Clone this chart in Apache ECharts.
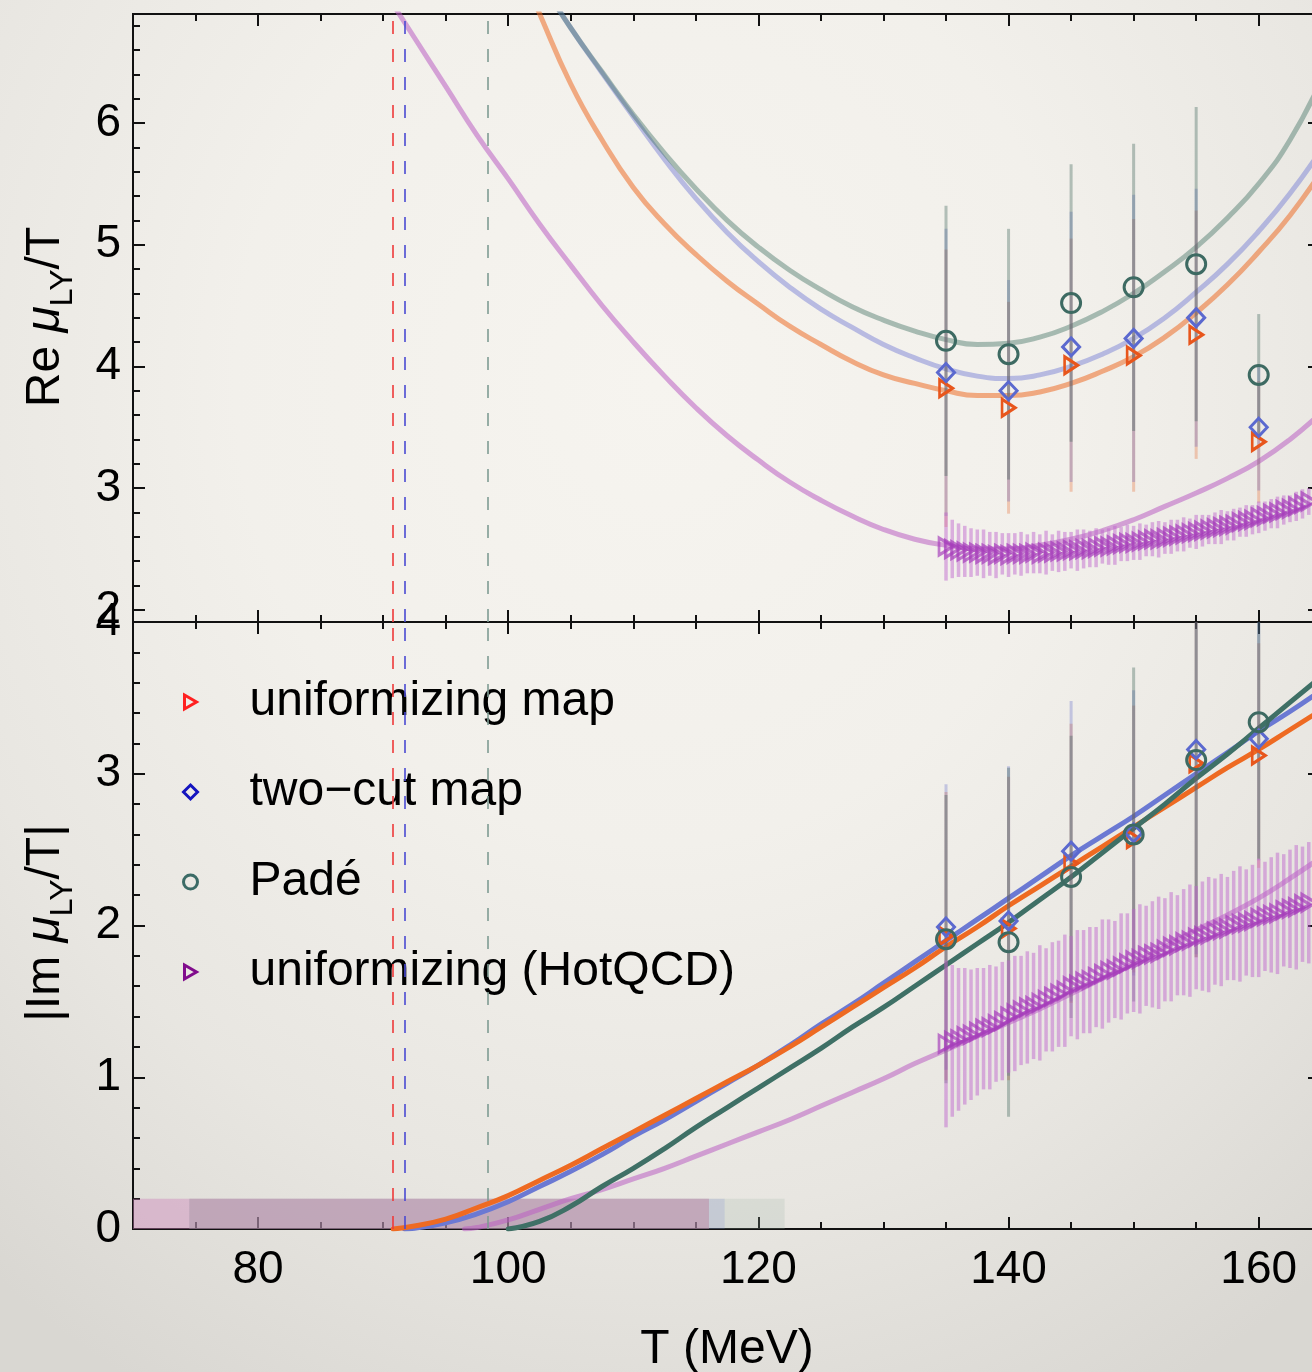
<!DOCTYPE html>
<html>
<head>
<meta charset="utf-8">
<script src="https://cdn.jsdelivr.net/npm/echarts@6/dist/echarts.min.js"></script>
<style>
html,body{margin:0;padding:0;width:1312px;height:1372px;overflow:hidden;}
body{background:radial-gradient(ellipse 1050px 1150px at 50% 28%, #f6f4ef 0%, #f2f0eb 40%, #e8e6e1 72%, #d9d7d2 100%);}
#chart{width:1312px;height:1372px;}
</style>
</head>
<body>
<div id="chart"></div>
<script>
// ---------------- data ----------------
const ptT = [135, 140, 145, 150, 155, 160];
// Re mu_LY / T
const reUnif      = [3.82, 3.66, 4.01, 4.09, 4.26, 3.38];
const reUnifErr   = [1.14, 0.87, 1.04, 1.12, 1.02, 0.50];
const reTwoCut    = [3.95, 3.80, 4.16, 4.23, 4.40, 3.50];
const reTwoCutErr = [1.18, 0.91, 1.11, 1.18, 1.06, 0.52];
const rePade      = [4.21, 4.10, 4.52, 4.65, 4.84, 3.93];
const rePadeErr   = [1.11, 1.03, 1.14, 1.18, 1.29, 0.50];
// |Im mu_LY / T|
const imUnif      = [1.93, 1.98, 2.41, 2.57, 3.07, 3.12];
const imUnifErr   = [0.95, 1.00, 0.92, 0.88, 1.28, 0.74];
const imTwoCut    = [1.99, 2.03, 2.49, 2.61, 3.16, 3.23];
const imTwoCutErr = [0.94, 1.02, 0.99, 0.94, 1.35, 0.80];
const imPade      = [1.91, 1.89, 2.32, 2.60, 3.09, 3.34];
const imPadeErr   = [0.95, 1.15, 0.93, 1.10, 1.30, 0.90];

// HotQCD uniformizing points
const hqT = [135,135.5,136,136.5,137,137.5,138,138.5,139,139.5,140,140.5,141,141.5,142,142.5,143,143.5,144,144.5,145,145.5,146,146.5,147,147.5,148,148.5,149,149.5,150,150.5,151,151.5,152,152.5,153,153.5,154,154.5,155,155.5,156,156.5,157,157.5,158,158.5,159,159.5,160,160.5,161,161.5,162,162.5,163,163.5,164];
const hqRe = [2.52,2.50,2.49,2.48,2.47,2.47,2.46,2.46,2.45,2.46, 2.45,2.46,2.46,2.46,2.47,2.46,2.47,2.47,2.48,2.48, 2.49,2.49,2.50,2.50,2.51,2.52,2.52,2.53,2.54,2.55, 2.55,2.56,2.57,2.58,2.58,2.59,2.60,2.61,2.62,2.63, 2.64,2.65,2.66,2.67,2.68,2.69,2.70,2.72,2.73,2.74, 2.76,2.77,2.79,2.80,2.82,2.83,2.85,2.87,2.89];
const hqReErr = [0.28,0.24,0.22,0.21,0.20,0.19,0.20,0.18,0.19,0.17, 0.18,0.17,0.18,0.16,0.17,0.16,0.18,0.15,0.17,0.16, 0.15,0.17,0.16,0.15,0.16,0.14,0.15,0.16,0.14,0.15, 0.14,0.15,0.13,0.14,0.15,0.13,0.14,0.13,0.14,0.12, 0.14,0.13,0.12,0.13,0.14,0.12,0.13,0.12,0.13,0.12, 0.13,0.12,0.12,0.13,0.12,0.11,0.12,0.12,0.11];
const hqIm = [1.22,1.24,1.25,1.27,1.28,1.30,1.32,1.33,1.35,1.37, 1.40,1.42,1.44,1.46,1.47,1.49,1.51,1.53,1.55,1.57, 1.60,1.61,1.63,1.64,1.66,1.68,1.70,1.71,1.73,1.75, 1.77,1.78,1.80,1.81,1.82,1.84,1.86,1.87,1.89,1.90, 1.92,1.93,1.94,1.96,1.97,1.98,2.00,2.01,2.02,2.03, 2.05,2.06,2.07,2.08,2.10,2.11,2.12,2.14,2.15];
const hqImErr = [0.55,0.50,0.47,0.45,0.43,0.42,0.40,0.41,0.38,0.39, 0.37,0.38,0.36,0.37,0.35,0.38,0.34,0.36,0.35,0.37, 0.33,0.36,0.34,0.35,0.33,0.36,0.34,0.32,0.35,0.33, 0.34,0.36,0.33,0.35,0.37,0.34,0.36,0.33,0.35,0.37, 0.34,0.36,0.38,0.35,0.37,0.34,0.36,0.38,0.35,0.37, 0.39,0.36,0.38,0.40,0.37,0.39,0.41,0.38,0.40];

// fitted curves (Re)
const reFitT      = [100,102.5,105,107.5,110,112.5,115,117.5,120,122.5,125,127.5,130,132.5,135,137.5,140,142.5,145,147.5,150,152.5,155,157.5,160,162.5,165];
const reFitUnif   = [7.50,6.90,6.32,5.86,5.47,5.17,4.92,4.70,4.51,4.33,4.18,4.04,3.93,3.86,3.80,3.76,3.76,3.79,3.86,3.96,4.08,4.24,4.44,4.67,4.94,5.24,5.60];
const reFitT2     = [102.5,105,107.5,110,112.5,115,117.5,120,122.5,125,127.5,130,132.5,135,137.5,140,142.5,145,147.5,150,152.5,155,157.5,160,162.5,165];
const reFitTwoCut = [7.18,6.78,6.41,6.05,5.70,5.38,5.10,4.86,4.65,4.47,4.32,4.18,4.07,3.98,3.92,3.90,3.93,4.00,4.10,4.23,4.40,4.61,4.84,5.11,5.42,5.78];
const reFitPade   = [7.18,6.78,6.42,6.07,5.75,5.46,5.20,4.98,4.79,4.63,4.49,4.38,4.29,4.22,4.18,4.19,4.24,4.33,4.45,4.60,4.78,4.98,5.22,5.50,5.86,6.35];
const reFitHqT    = [90,92.5,95,97.5,100,102.5,105,107.5,110,112.5,115,117.5,120,122.5,125,127.5,130,132.5,135,137.5,140,142.5,145,147.5,150,152.5,155,157.5,160,162.5,165];
const reFitHq     = [7.10,6.70,6.30,5.90,5.54,5.17,4.83,4.50,4.20,3.92,3.66,3.43,3.23,3.05,2.90,2.77,2.66,2.58,2.53,2.50,2.50,2.53,2.58,2.65,2.74,2.85,2.96,3.08,3.22,3.40,3.62];

// fitted curves (|Im|)
const imFitUnifT   = [90.8,92.5,95,97.5,100,102.5,105,107.5,110,112.5,115,117.5,120,122.5,125,127.5,130,132.5,135,137.5,140,142.5,145,147.5,150,152.5,155,157.5,160,162.5,165];
const imFitUnif    = [0,0.02,0.065,0.14,0.22,0.32,0.42,0.53,0.64,0.75,0.86,0.97,1.08,1.20,1.33,1.46,1.59,1.72,1.86,1.99,2.13,2.26,2.39,2.52,2.65,2.78,2.91,3.04,3.16,3.29,3.42];
const imFitTwoCutT = [91.7,92.5,95,97.5,100,102.5,105,107.5,110,112.5,115,117.5,120,122.5,125,127.5,130,132.5,135,137.5,140,142.5,145,147.5,150,152.5,155,157.5,160,162.5,165];
const imFitTwoCut  = [0,0.005,0.04,0.10,0.18,0.28,0.38,0.49,0.61,0.72,0.84,0.96,1.08,1.21,1.35,1.48,1.62,1.76,1.90,2.04,2.18,2.32,2.46,2.59,2.72,2.86,3.00,3.14,3.28,3.41,3.55];
const imFitPadeT   = [100,102.5,105,107.5,110,112.5,115,117.5,120,122.5,125,127.5,130,132.5,135,137.5,140,142.5,145,147.5,150,152.5,155,157.5,160,162.5,165];
const imFitPade    = [0,0.05,0.15,0.28,0.40,0.53,0.67,0.80,0.93,1.06,1.19,1.33,1.46,1.60,1.74,1.88,2.02,2.17,2.32,2.48,2.64,2.80,2.97,3.13,3.30,3.47,3.64];
const imFitHqT     = [96.5,97.5,100,102.5,105,107.5,110,112.5,115,117.5,120,122.5,125,127.5,130,132.5,135,137.5,140,142.5,145,147.5,150,152.5,155,157.5,160,162.5,165];
const imFitHq      = [0,0.01,0.06,0.13,0.20,0.26,0.33,0.40,0.48,0.56,0.64,0.72,0.81,0.90,0.99,1.09,1.18,1.27,1.36,1.45,1.55,1.65,1.75,1.86,1.97,2.07,2.18,2.31,2.45];

// vertical dashed lines (T) and shaded bands [from, to] on |Im| axis (0..0.2)
const vLinesT = [90.79, 91.75, 98.38];
const bandHotQCD = [70, 116.05];
const bandUnif   = [74.5, 116.05];
const bandTwoCut = [74.5, 117.3];
const bandPade   = [74.5, 122.1];
const bandHeight = 0.2;

// tick labels
const xTicksMajor = [80, 100, 120, 140, 160];
const xTicksMinor = [70,75,80,85,90,95,100,105,110,115,120,125,130,135,140,145,150,155,160];
const reTicksMajor = [2, 3, 4, 5, 6];
const reTicksMinor = [2,2.2,2.4,2.6,2.8,3,3.2,3.4,3.6,3.8,4,4.2,4.4,4.6,4.8,5,5.2,5.4,5.6,5.8,6,6.2,6.4,6.6,6.8];
const imTicksMajor = [0, 1, 2, 3, 4];
const imTicksMinor = [0,0.2,0.4,0.6,0.8,1,1.2,1.4,1.6,1.8,2,2.2,2.4,2.6,2.8,3,3.2,3.4,3.6,3.8,4];

// ---------------- style ----------------
const F = '"Liberation Sans", Arial, Helvetica, sans-serif';
const XMIN = 70, XMAX = 164.9;
const RE_MIN = 1.9, RE_MAX = 6.895;
const IM_MIN = 0, IM_MAX = 4;
const AX = '#111';

const C = {
  unifTop: 'rgba(236,110,40,0.55)', twoTop: 'rgba(100,110,210,0.42)', padeTop: 'rgba(60,110,95,0.42)', hqLine: 'rgba(185,95,195,0.55)',
  unifBot: '#ee6a22', twoBot: '#6b79d3', padeBot: '#3f7066',
  unifMk: '#e8561c', twoMk: '#5b69cf', padeMk: '#3d6a62', hqMk: 'rgba(165,60,185,0.68)',
  unifErr: 'rgba(230,100,40,0.30)', twoErr: 'rgba(90,100,200,0.30)', padeErr: 'rgba(60,100,90,0.36)', hqErr: 'rgba(190,100,205,0.48)'
};
const TRI = 'path://M0,0L12,7L0,14Z';

const zip = (xs, ys) => xs.map((x, i) => [x, ys[i]]);
const zip3 = (xs, ys, es) => xs.map((x, i) => [x, ys[i], es[i]]);

function errBar(color, width) {
  return function (params, api) {
    const x = api.value(0), y = api.value(1), e = api.value(2);
    const a = api.coord([x, y + e]), b = api.coord([x, y - e]);
    return { type: 'line', shape: { x1: a[0], y1: a[1], x2: b[0], y2: b[1] },
             style: { stroke: color, lineWidth: width } };
  };
}

function xAx(grid, pos, ticks, len, labels) {
  return {
    type: 'value', gridIndex: grid, position: pos, min: XMIN, max: XMAX,
    axisLine: { show: true, onZero: false, lineStyle: { color: AX, width: 2 } },
    axisTick: { show: true, inside: true, length: len, customValues: ticks, lineStyle: { color: AX, width: 2 } },
    axisLabel: labels ? { show: true, customValues: ticks, fontSize: 46, fontFamily: F, color: '#000', margin: 18 } : { show: false },
    splitLine: { show: false }
  };
}
function yAx(grid, pos, min, max, ticks, len, labels) {
  return {
    type: 'value', gridIndex: grid, position: pos, min: min, max: max,
    axisLine: { show: true, onZero: false, lineStyle: { color: AX, width: 2 } },
    axisTick: { show: true, inside: true, length: len, customValues: ticks, lineStyle: { color: AX, width: 2 } },
    axisLabel: labels ? { show: true, customValues: ticks, fontSize: 46, fontFamily: F, color: '#000', margin: 12 } : { show: false },
    splitLine: { show: false }
  };
}

const xAxes = [
  xAx(0, 'bottom', xTicksMinor, 7, false),  // 0
  xAx(0, 'bottom', xTicksMajor, 12, false), // 1
  xAx(0, 'top', xTicksMinor, 7, false),     // 2
  xAx(0, 'top', xTicksMajor, 12, false),    // 3
  xAx(1, 'bottom', xTicksMinor, 7, false),  // 4
  xAx(1, 'bottom', xTicksMajor, 12, true),  // 5
  xAx(1, 'top', xTicksMinor, 7, false),     // 6
  xAx(1, 'top', xTicksMajor, 12, false)     // 7
];
const yAxes = [
  yAx(0, 'left', RE_MIN, RE_MAX, reTicksMinor, 7, false),   // 0
  yAx(0, 'left', RE_MIN, RE_MAX, reTicksMajor, 12, true),   // 1
  yAx(0, 'right', RE_MIN, RE_MAX, reTicksMinor, 7, false),  // 2
  yAx(0, 'right', RE_MIN, RE_MAX, reTicksMajor, 12, false), // 3
  yAx(1, 'left', IM_MIN, IM_MAX, imTicksMinor, 7, false),   // 4
  yAx(1, 'left', IM_MIN, IM_MAX, imTicksMajor, 12, true),   // 5
  yAx(1, 'right', IM_MIN, IM_MAX, imTicksMinor, 7, false),  // 6
  yAx(1, 'right', IM_MIN, IM_MAX, imTicksMajor, 12, false)  // 7
];

const vLineColors = ['#ee3a3a', '#4a4ad2', '#7f9c93'];
function vMarkLine() {
  return {
    silent: true, symbol: ['none', 'none'], label: { show: false }, animation: false,
    data: vLinesT.map((v, i) => ({ xAxis: v, lineStyle: { color: vLineColors[i], type: [13, 15], width: 1.6 } }))
  };
}

function line(grid, xs, ys, color, width, z, extra) {
  return Object.assign({
    type: 'line', xAxisIndex: grid === 0 ? 0 : 4, yAxisIndex: grid === 0 ? 0 : 4,
    data: zip(xs, ys), showSymbol: false, smooth: 0.5, clip: true, silent: true,
    lineStyle: { color: color, width: width, cap: 'round' }, z: z
  }, extra || {});
}
function err(grid, ys, es, color, width, xs) {
  return {
    type: 'custom', xAxisIndex: grid === 0 ? 0 : 4, yAxisIndex: grid === 0 ? 0 : 4,
    data: zip3(xs || ptT, ys, es), renderItem: errBar(color, width), clip: true, silent: true,
    encode: { x: 0, y: 1 }, z: 3
  };
}
function pts(grid, name, xs, ys, symbol, size, color, bw, z) {
  return {
    type: 'scatter', name: name, xAxisIndex: grid === 0 ? 0 : 4, yAxisIndex: grid === 0 ? 0 : 4,
    data: zip(xs, ys), symbol: symbol, symbolSize: size, clip: true, silent: true,
    itemStyle: { color: 'rgba(0,0,0,0)', borderColor: color, borderWidth: bw, opacity: 1 }, z: z || 5
  };
}

const bandArea = {
  silent: true,
  data: [
    [{ xAxis: bandHotQCD[0], yAxis: 0, itemStyle: { color: 'rgba(205,130,185,0.42)' } }, { xAxis: bandHotQCD[1], yAxis: bandHeight }],
    [{ xAxis: bandPade[0], yAxis: 0, itemStyle: { color: 'rgba(160,180,170,0.22)' } }, { xAxis: bandPade[1], yAxis: bandHeight }],
    [{ xAxis: bandTwoCut[0], yAxis: 0, itemStyle: { color: 'rgba(120,130,210,0.20)' } }, { xAxis: bandTwoCut[1], yAxis: bandHeight }],
    [{ xAxis: bandUnif[0], yAxis: 0, itemStyle: { color: 'rgba(230,110,60,0.10)' } }, { xAxis: bandUnif[1], yAxis: bandHeight }]
  ]
};

const series = [
  // ---------- top panel ----------
  line(0, reFitHqT, reFitHq, C.hqLine, 5, 2, { markLine: vMarkLine() }),
  line(0, reFitT, reFitUnif, C.unifTop, 5, 2),
  line(0, reFitT2, reFitTwoCut, C.twoTop, 5, 2),
  line(0, reFitT2, reFitPade, C.padeTop, 5, 2),
  err(0, reUnif, reUnifErr, C.unifErr, 3),
  err(0, reTwoCut, reTwoCutErr, C.twoErr, 3),
  err(0, rePade, rePadeErr, C.padeErr, 3),
  err(0, hqRe, hqReErr, C.hqErr, 3.5, hqT),
  pts(0, 'uniformizing (HotQCD)', hqT, hqRe, TRI, [14, 17], C.hqMk, 3, 4),
  pts(0, 'uniformizing map', ptT, reUnif, TRI, [13, 17], C.unifMk, 3),
  pts(0, 'two\u2212cut map', ptT, reTwoCut, 'diamond', [17, 18], C.twoMk, 3),
  pts(0, 'Padé', ptT, rePade, 'circle', 19, C.padeMk, 3),
  // ---------- bottom panel ----------
  line(1, imFitHqT, imFitHq, C.hqLine, 5, 2, { markLine: vMarkLine(), markArea: bandArea }),
  line(1, imFitTwoCutT, imFitTwoCut, C.twoBot, 5, 2),
  line(1, imFitUnifT, imFitUnif, C.unifBot, 5, 2),
  line(1, imFitPadeT, imFitPade, C.padeBot, 5, 2),
  err(1, imUnif, imUnifErr, C.unifErr, 3),
  err(1, imTwoCut, imTwoCutErr, C.twoErr, 3),
  err(1, imPade, imPadeErr, C.padeErr, 3),
  err(1, hqIm, hqImErr, C.hqErr, 3.5, hqT),
  pts(1, 'uniformizing (HotQCD)', hqT, hqIm, TRI, [14, 17], C.hqMk, 3, 4),
  pts(1, 'uniformizing map', ptT, imUnif, TRI, [13, 17], C.unifMk, 3),
  pts(1, 'two\u2212cut map', ptT, imTwoCut, 'diamond', [17, 18], C.twoMk, 3),
  pts(1, 'Padé', ptT, imPade, 'circle', 19, C.padeMk, 3)
];

const titleRich = {
  n: { fontSize: 48, fontFamily: F, color: '#000', lineHeight: 66, verticalAlign: 'middle' },
  i: { fontSize: 48, fontFamily: F, fontStyle: 'italic', color: '#000', lineHeight: 66, verticalAlign: 'middle' },
  s: { fontSize: 32, fontFamily: F, color: '#000', lineHeight: 32, verticalAlign: 'bottom' }
};

const option = {
  animation: false,
  backgroundColor: 'transparent',
  grid: [
    { left: 133, top: 14, width: 1187, height: 608, containLabel: false, outerBoundsMode: 'none' },
    { left: 133, top: 622, width: 1187, height: 607, containLabel: false, outerBoundsMode: 'none' }
  ],
  xAxis: xAxes,
  yAxis: yAxes,
  legend: {
    orient: 'vertical', left: 177, top: 669, itemWidth: 14, itemHeight: 14, itemGap: 34,
    selectedMode: false,
    textStyle: { fontSize: 48, fontFamily: F, color: '#000', lineHeight: 56, padding: [0, 0, 0, 47] },
    data: [
      { name: 'uniformizing map', icon: TRI, itemStyle: { color: 'rgba(0,0,0,0)', borderColor: '#ff2020', borderWidth: 3 } },
      { name: 'two\u2212cut map', icon: 'diamond', itemStyle: { color: 'rgba(0,0,0,0)', borderColor: '#1414bf', borderWidth: 3 } },
      { name: 'Padé', icon: 'circle', itemStyle: { color: 'rgba(0,0,0,0)', borderColor: '#3b6b66', borderWidth: 3 } },
      { name: 'uniformizing (HotQCD)', icon: TRI, itemStyle: { color: 'rgba(0,0,0,0)', borderColor: '#800c8c', borderWidth: 3 } }
    ]
  },
  graphic: [
    { type: 'text', x: 46, y: 317, rotation: Math.PI / 2, silent: true,
      style: { text: '{n|Re }{i|μ}{s|LY}{n|/T}', rich: titleRich, align: 'center', verticalAlign: 'middle' } },
    { type: 'text', x: 46, y: 923, rotation: Math.PI / 2, silent: true,
      style: { text: '{n||Im }{i|μ}{s|LY}{n|/T|}', rich: titleRich, align: 'center', verticalAlign: 'middle' } },
    { type: 'text', x: 727, y: 1350, silent: true,
      style: { text: 'T (MeV)', fontSize: 48, fontFamily: F, fill: '#000', align: 'center', verticalAlign: 'middle' } }
  ],
  series: series
};

const chart = echarts.init(document.getElementById('chart'), null, { renderer: 'canvas' });
chart.setOption(option);
</script>
</body>
</html>
